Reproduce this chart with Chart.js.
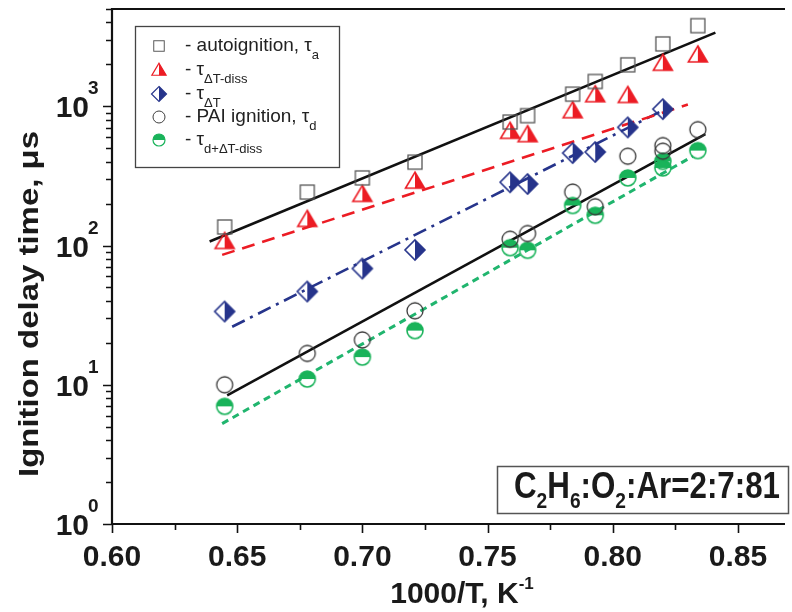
<!DOCTYPE html>
<html>
<head>
<meta charset="utf-8">
<title>Ignition delay time</title>
<script src="https://cdn.jsdelivr.net/npm/chart.js@4.4.1/dist/chart.umd.min.js"></script>
<style>
  html, body { margin: 0; padding: 0; background: #fff; }
</style>
</head>
<body>
<canvas id="chart" width="792" height="612"></canvas>
<script>
// ---- data ----
var autoX = [0.645, 0.678, 0.700, 0.721, 0.759, 0.766, 0.784, 0.793, 0.806, 0.820, 0.834];
var autoY = [136, 242, 306, 397, 771, 857, 1223, 1508, 1986, 2806, 3795];

var dissX = [0.645, 0.678, 0.700, 0.721, 0.759, 0.766, 0.784, 0.793, 0.806, 0.820, 0.834];
var dissY = [107, 154, 233, 290, 661, 626, 930, 1211, 1197, 2038, 2341];

var dTX = [0.645, 0.678, 0.700, 0.721, 0.759, 0.766, 0.784, 0.793, 0.806, 0.820];
var dTY = [33.6, 46.8, 68.4, 93, 285, 277, 462, 470, 706, 955];

var paiX = [0.645, 0.678, 0.700, 0.721, 0.759, 0.766, 0.784, 0.793, 0.806, 0.820, 0.820, 0.834];
var paiY = [10, 16.8, 21, 34, 111, 122, 242, 190, 438, 522, 476, 680];

var sumX = [0.645, 0.678, 0.700, 0.721, 0.759, 0.766, 0.784, 0.793, 0.806, 0.820, 0.820, 0.834];
var sumY = [7.0, 11.0, 15.8, 24.5, 96.6, 92.5, 194, 165, 306, 403, 361, 481];

// fitted lines (end points)
var fitAutoX = [0.639, 0.841], fitAutoY = [107, 3381];
var fitDissX = [0.644, 0.830], fitDissY = [85.7, 1030];
var fitDTX = [0.648, 0.820], fitDTY = [26.1, 935];
var fitPaiX = [0.646, 0.837], fitPaiY = [8.38, 632];
var fitSumX = [0.644, 0.832], fitSumY = [5.26, 438];

// axis ticks
var xTicks = [0.600, 0.625, 0.650, 0.675, 0.700, 0.725, 0.750, 0.775, 0.800, 0.825, 0.850];
var yTicks = [1, 2, 3, 4, 5, 6, 7, 8, 9, 10, 20, 30, 40, 50, 60, 70, 80, 90,
              100, 200, 300, 400, 500, 600, 700, 800, 900, 1000, 2000, 3000, 4000, 5000];

var RED = '#ec1c24', NAVY = '#26348b', GREEN = '#19b35a', GREENLINE = '#20b56e';

function pairs(xs, ys) {
    return xs.map(function (x, i) { return { x: x, y: ys[i] }; });
}

// ---- marker images ----
function marker(kind, k) {
    var s = Math.ceil(24 * k), c = document.createElement('canvas');
    c.width = s; c.height = s;
    var g = c.getContext('2d');
    g.translate(s / 2, s / 2);
    g.scale(k, k);
    g.lineJoin = 'miter';
    if (kind === 'square') {
        g.strokeStyle = '#555'; g.lineWidth = 1.3;
        g.strokeRect(-7, -7, 14, 14);
    } else if (kind === 'tri') {
        g.fillStyle = RED;
        g.beginPath(); g.moveTo(0, -9); g.lineTo(9.5, 7); g.lineTo(0, 7); g.closePath(); g.fill();
        g.strokeStyle = RED; g.lineWidth = 1.6;
        g.beginPath(); g.moveTo(0, -9); g.lineTo(9.5, 7); g.lineTo(-9.5, 7); g.closePath(); g.stroke();
    } else if (kind === 'diamond') {
        g.fillStyle = NAVY;
        g.beginPath(); g.moveTo(0, -10); g.lineTo(10, 0); g.lineTo(0, 10); g.closePath(); g.fill();
        g.strokeStyle = NAVY; g.lineWidth = 1.6;
        g.beginPath(); g.moveTo(0, -10); g.lineTo(10, 0); g.lineTo(0, 10); g.lineTo(-10, 0); g.closePath(); g.stroke();
    } else if (kind === 'circle') {
        g.strokeStyle = '#3a3a3a'; g.lineWidth = 1.3;
        g.beginPath(); g.arc(0, 0, 8, 0, Math.PI * 2); g.stroke();
    } else if (kind === 'half') {
        g.fillStyle = GREEN;
        g.beginPath(); g.arc(0, 0, 8, Math.PI, Math.PI * 2); g.closePath(); g.fill();
        g.strokeStyle = GREEN; g.lineWidth = 1.6;
        g.beginPath(); g.arc(0, 0, 8, 0, Math.PI * 2); g.stroke();
    }
    return c;
}

var kinds = ['square', 'tri', 'diamond', 'circle', 'half'];
var bigMarks = {}, smallMarks = {};
kinds.forEach(function (k) {
    bigMarks[k] = marker(k, 1);
    smallMarks[k] = marker(k, 0.75);
});

function pointSet(label, xs, ys, kind) {
    return {
        label: label,
        data: pairs(xs, ys),
        pointStyle: bigMarks[kind],
        pointRadius: 8,
        showLine: false
    };
}

function fitSet(xs, ys, color, dash, width) {
    return {
        data: pairs(xs, ys),
        showLine: true,
        borderColor: color,
        borderWidth: width,
        borderDash: dash,
        pointRadius: 0,
        fill: false
    };
}

// ---- text helpers ----
function drawParts(ctx, parts, x, y, mainFont, subFont, subDy, supDy) {
    parts.forEach(function (p) {
        ctx.font = p.sub || p.sup ? subFont : mainFont;
        var dy = p.sub ? subDy : (p.sup ? supDy : 0);
        ctx.fillText(p.t, x, y + dy);
        x += ctx.measureText(p.t).width;
    });
    return x;
}

function partsWidth(ctx, parts, mainFont, subFont) {
    var w = 0;
    parts.forEach(function (p) {
        ctx.font = p.sub || p.sup ? subFont : mainFont;
        w += ctx.measureText(p.t).width;
    });
    return w;
}

var legendRows = [
    { kind: 'square', y: 46, parts: [{ t: '- autoignition, \u03c4' }, { t: 'a', sub: true }] },
    { kind: 'tri', y: 70, parts: [{ t: '- \u03c4' }, { t: '\u0394T-diss', sub: true }] },
    { kind: 'diamond', y: 94, parts: [{ t: '- \u03c4' }, { t: '\u0394T', sub: true }] },
    { kind: 'circle', y: 117, parts: [{ t: '- PAI ignition, \u03c4' }, { t: 'd', sub: true }] },
    { kind: 'half', y: 140, parts: [{ t: '- \u03c4' }, { t: 'd+\u0394T-diss', sub: true }] }
];

var FONT = '"Liberation Sans", Arial, sans-serif';

var decor = {
    id: 'decor',
    afterDraw: function (chart) {
        var ctx = chart.ctx, a = chart.chartArea;
        var xs = chart.scales.x, ys = chart.scales.y;
        ctx.save();

        // frame (left, top, bottom)
        ctx.strokeStyle = '#111';
        ctx.lineWidth = 2.2;
        ctx.beginPath();
        ctx.moveTo(a.right + 2, a.top); ctx.lineTo(a.left, a.top);
        ctx.lineTo(a.left, a.bottom); ctx.lineTo(a.right + 2, a.bottom);
        ctx.stroke();

        // tick marks
        ctx.lineWidth = 1.6;
        ctx.beginPath();
        xs.ticks.forEach(function (t) {
            var px = Math.round(xs.getPixelForValue(t.value)) + 0.5;
            var major = Math.abs(t.value * 20 - Math.round(t.value * 20)) < 1e-6;
            ctx.moveTo(px, a.bottom); ctx.lineTo(px, a.bottom + (major ? 9 : 6));
        });
        ys.ticks.forEach(function (t) {
            var py = Math.round(ys.getPixelForValue(t.value)) + 0.5;
            var e = Math.log10(t.value);
            var major = Math.abs(e - Math.round(e)) < 1e-6;
            ctx.moveTo(a.left, py); ctx.lineTo(a.left - (major ? 9 : 6), py);
        });
        ctx.stroke();

        // y tick labels 10^n
        ctx.fillStyle = '#1a1a1a';
        ys.ticks.forEach(function (t) {
            var e = Math.log10(t.value);
            if (Math.abs(e - Math.round(e)) > 1e-6) return;
            var py = ys.getPixelForValue(t.value);
            ctx.font = 'bold 30px ' + FONT;
            ctx.textAlign = 'right';
            ctx.textBaseline = 'alphabetic';
            ctx.fillText('10', 89, py + 11);
            ctx.font = 'bold 19px ' + FONT;
            ctx.textAlign = 'left';
            ctx.fillText(String(Math.round(e)), 88, py - 12);
        });

        // y axis title, stretched along its length like the original
        ctx.save();
        ctx.translate(38, 304);
        ctx.rotate(-Math.PI / 2);
        ctx.font = 'bold 27px ' + FONT;
        var tt = 'Ignition delay time, \u03bcs';
        ctx.scale(346 / ctx.measureText(tt).width, 1);
        ctx.textAlign = 'center';
        ctx.textBaseline = 'alphabetic';
        ctx.fillText(tt, 0, 0);
        ctx.restore();

        // x axis title with superscript
        var xt = [{ t: '1000/T, K' }, { t: '-1', sup: true }];
        var xf = 'bold 30px ' + FONT, xsf = 'bold 17px ' + FONT;
        var xw = partsWidth(ctx, xt, xf, xsf);
        ctx.textAlign = 'left';
        drawParts(ctx, xt, 462 - xw / 2, 603, xf, xsf, 0, -14);

        // legend box
        ctx.fillStyle = '#fff';
        ctx.fillRect(135, 26, 204, 141);
        ctx.strokeStyle = '#444';
        ctx.lineWidth = 1.3;
        ctx.strokeRect(135.5, 26.5, 204, 141);
        legendRows.forEach(function (r) {
            var m = smallMarks[r.kind];
            ctx.drawImage(m, 159 - m.width / 2, r.y - m.height / 2);
            ctx.fillStyle = '#222';
            ctx.textBaseline = 'middle';
            drawParts(ctx, r.parts, 185, r.y, '19px ' + FONT, '13px ' + FONT, 9, 0);
        });

        // composition box
        ctx.fillStyle = '#fff';
        ctx.fillRect(497, 466, 291, 47);
        ctx.strokeStyle = '#555';
        ctx.lineWidth = 1.5;
        ctx.strokeRect(497.5, 466.5, 291, 47);
        var comp = [{ t: 'C' }, { t: '2', sub: true }, { t: 'H' }, { t: '6', sub: true },
                    { t: ':O' }, { t: '2', sub: true }, { t: ':Ar=2:7:81' }];
        var cf = 'bold 36px ' + FONT, csf = 'bold 22px ' + FONT;
        var cw = partsWidth(ctx, comp, cf, csf);
        ctx.save();
        ctx.translate(514, 0);
        ctx.scale(266 / cw, 1);
        ctx.fillStyle = '#1a1a1a';
        ctx.textBaseline = 'alphabetic';
        drawParts(ctx, comp, 0, 498, cf, csf, 10, 0);
        ctx.restore();

        ctx.restore();
    }
};

var chart = new Chart(document.getElementById('chart').getContext('2d'), {
    type: 'scatter',
    data: {
        datasets: [
            pointSet('autoignition', autoX, autoY, 'square'),
            pointSet('tau dT-diss', dissX, dissY, 'tri'),
            pointSet('tau dT', dTX, dTY, 'diamond'),
            pointSet('PAI ignition', paiX, paiY, 'circle'),
            pointSet('tau d+dT-diss', sumX, sumY, 'half'),
            fitSet(fitAutoX, fitAutoY, '#111', [], 2.6),
            fitSet(fitDissX, fitDissY, RED, [13, 8], 2.6),
            fitSet(fitDTX, fitDTY, NAVY, [14, 6, 3, 6], 2.6),
            fitSet(fitPaiX, fitPaiY, '#111', [], 2.6),
            fitSet(fitSumX, fitSumY, GREENLINE, [7, 5], 3)
        ]
    },
    options: {
        responsive: false,
        animation: false,
        events: [],
        layout: { padding: { top: 8, right: 0, left: 0, bottom: 0 } },
        plugins: {
            legend: { display: false },
            tooltip: { enabled: false }
        },
        scales: {
            x: {
                type: 'linear',
                min: 0.6,
                max: 0.868,
                afterBuildTicks: function (s) {
                    s.ticks = xTicks.map(function (v) { return { value: v }; });
                },
                afterFit: function (s) { s.height = 88; },
                grid: { display: false, drawTicks: true, tickLength: 9 },
                border: { display: false },
                ticks: {
                    autoSkip: false,
                    maxRotation: 0,
                    padding: 7,
                    color: '#1a1a1a',
                    font: { family: FONT, size: 30, weight: 'bold' },
                    callback: function (v) {
                        return Math.abs(v * 20 - Math.round(v * 20)) < 1e-6 ? v.toFixed(2) : '';
                    }
                }
            },
            y: {
                type: 'logarithmic',
                min: 1,
                max: 5000,
                afterBuildTicks: function (s) {
                    s.ticks = yTicks.map(function (v) { return { value: v }; });
                },
                afterFit: function (s) { s.width = 112; },
                grid: { display: false },
                border: { display: false },
                ticks: { display: false }
            }
        }
    },
    plugins: [decor]
});
</script>
</body>
</html>
